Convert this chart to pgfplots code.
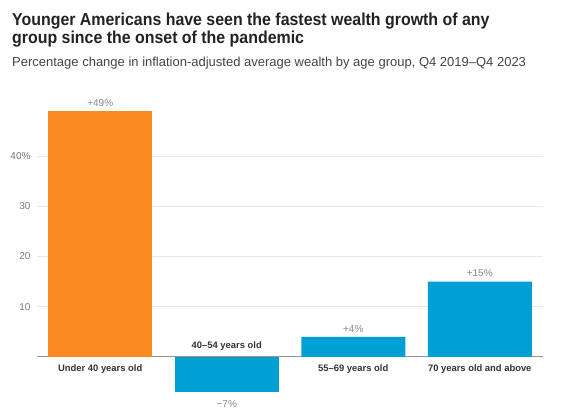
\documentclass[border=0pt]{standalone}
\usepackage{pgfplots}
\pgfplotsset{compat=1.18}
\usepackage{fontspec}
\setmainfont{Liberation Sans}
\newfontfamily\titlefont[FakeStretch=0.92]{Liberation Sans}
\definecolor{orng}{RGB}{250,137,30}
\definecolor{blu}{RGB}{0,159,212}
\definecolor{ttl}{RGB}{34,34,34}
\definecolor{sub}{RGB}{68,68,68}
\definecolor{tick}{RGB}{120,120,120}
\definecolor{val}{RGB}{136,136,136}
\definecolor{cat}{RGB}{51,51,51}
\definecolor{grd}{RGB}{232,232,232}
\begin{document}
\begin{tikzpicture}[x=1pt,y=1pt]
\useasboundingbox (0,0) rectangle (565,415);
\node[anchor=base west,inner sep=0pt,text=ttl,font=\titlefont\fontsize{17.3}{20}\selectfont\bfseries] at (12,389) {Younger Americans have seen the fastest wealth growth of any};
\node[anchor=base west,inner sep=0pt,text=ttl,font=\titlefont\fontsize{17.3}{20}\selectfont\bfseries] at (12,371.5) {group since the onset of the pandemic};
\node[anchor=base west,inner sep=0pt,text=sub,font=\fontsize{13}{15}\selectfont] at (12,348) {Percentage change in inflation-adjusted average wealth by age group, Q4 2019\textendash Q4 2023};
\begin{axis}[
  at={(37pt,7.75pt)}, anchor=south west,
  scale only axis, width=506pt, height=301.5pt,
  xmin=-0.5, xmax=3.5, ymin=-10, ymax=50,
  axis line style={draw=none},
  clip=false,
  xtick=\empty,
  ytick={10,20,30,40},
  yticklabels={10,20,30,40\%},
  major tick length=0pt,
  ymajorgrids, grid style={grd, line width=0.8pt},
  extra y ticks={0}, extra y tick labels={},
  extra y tick style={grid style={draw=gray!85, line width=1pt}},
  yticklabel style={text=tick, font=\fontsize{10}{12}\selectfont, anchor=east, xshift=-3pt},
  /pgf/number format/assume math mode=true,
]
\addplot[ybar, bar width=104pt, fill=orng, draw=none,
  nodes near coords, point meta=explicit symbolic,
  every node near coord/.append style={text=val, font=\fontsize{10}{12}\selectfont, yshift=1pt}]
  coordinates {(0,49)[+49\%]};
\addplot[ybar, bar width=104pt, fill=blu, draw=none,
  nodes near coords, point meta=explicit symbolic,
  every node near coord/.append style={text=val, font=\fontsize{10}{12}\selectfont, yshift=1pt}]
  coordinates {(2,4)[+4\%] (3,15)[+15\%]};
\addplot[ybar, bar width=104pt, fill=blu, draw=none,
  nodes near coords, point meta=explicit symbolic,
  nodes near coords align={center},
  every node near coord/.append style={anchor=north, text=val, font=\fontsize{10}{12}\selectfont, yshift=-5pt}]
  coordinates {(1,-7)[\textminus7\%]};
% category labels below the zero line
\addplot[only marks, mark=none, nodes near coords, point meta=explicit symbolic,
  nodes near coords align={center},
  every node near coord/.append style={anchor=north, yshift=-4pt, text=cat, font=\fontsize{9.4}{12}\selectfont\bfseries}]
  coordinates {(0,0)[Under 40 years old] (2,0)[55\textendash 69 years old] (3,0)[70 years old and above]};
% category label above the zero line
\addplot[only marks, mark=none, nodes near coords, point meta=explicit symbolic,
  nodes near coords align={center},
  every node near coord/.append style={anchor=south, yshift=3pt, text=cat, font=\fontsize{9.4}{12}\selectfont\bfseries}]
  coordinates {(1,0)[40\textendash 54 years old]};
\end{axis}
\end{tikzpicture}
\end{document}
